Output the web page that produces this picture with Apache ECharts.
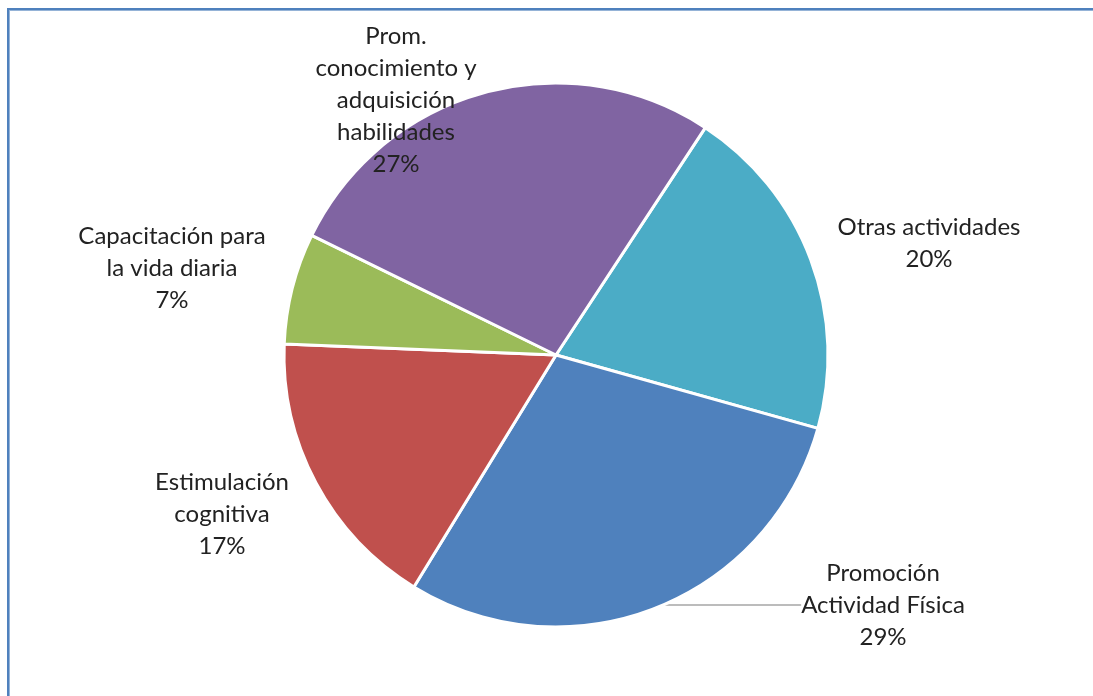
<!DOCTYPE html>
<html><head><meta charset="utf-8">
<script src="https://cdn.jsdelivr.net/npm/echarts@6/dist/echarts.min.js"></script>
<style>html,body{margin:0;padding:0;background:#fff}#c{width:1093px;height:696px}</style>
</head><body><div id="c"></div>
<script>
const categories = ['Otras actividades', 'Promoción\nActividad Física', 'Estimulación\ncognitiva', 'Capacitación para\nla vida diaria', 'Prom.\nconocimiento y\nadquisición\nhabilidades'];
const values = [20.1, 29.4, 16.9, 6.6, 27.0];
const colors = ['#4BACC6', '#4F81BD', '#C0504D', '#9BBB59', '#8064A2'];
const labelCenters = [[929, 243], [883, 605], [222, 514], [172, 268], [396, 100]];
const showLeader = [false, true, false, false, false];

const chart = echarts.init(document.getElementById('c'), null, {renderer: 'canvas'});
chart.setOption({
  animation: false,
  backgroundColor: '#fff',
  graphic: [
    {type: 'line', silent: true, shape: {x1: 8, y1: 8, x2: 8, y2: 696}, style: {stroke: '#4F81BD', lineWidth: 2}},
    {type: 'line', silent: true, shape: {x1: 9.5, y1: 10, x2: 9.5, y2: 696}, style: {stroke: '#95B3D7', lineWidth: 1}},
    {type: 'line', silent: true, shape: {x1: 7, y1: 9, x2: 1093, y2: 9}, style: {stroke: '#4F81BD', lineWidth: 2}},
    {type: 'line', silent: true, shape: {x1: 9, y1: 10.5, x2: 1093, y2: 10.5}, style: {stroke: '#95B3D7', lineWidth: 1}}
  ],
  series: [{
    type: 'pie',
    center: [556, 355],
    radius: 272,
    startAngle: 56.7,
    clockwise: true,
    avoidLabelOverlap: false,
    itemStyle: {borderColor: '#fff', borderWidth: 3},
    emphasis: {disabled: true},
    label: {
      show: true, position: 'outside',
      formatter: p => p.name + '\n' + Math.round(p.percent) + '%',
      fontFamily: 'Lato', fontSize: 24, lineHeight: 32, color: '#222', align: 'center'
    },
    labelLine: {show: true, length: 0, length2: 140, smooth: false, lineStyle: {color: '#A6A6A6', width: 1.5}},
    labelLayout: p => ({x: labelCenters[p.dataIndex][0], y: labelCenters[p.dataIndex][1], align: 'center', verticalAlign: 'middle'}),
    data: categories.map((n, i) => ({name: n, value: values[i], itemStyle: {color: colors[i]}, labelLine: {show: showLeader[i]}}))
  }]
});
</script></body></html>
